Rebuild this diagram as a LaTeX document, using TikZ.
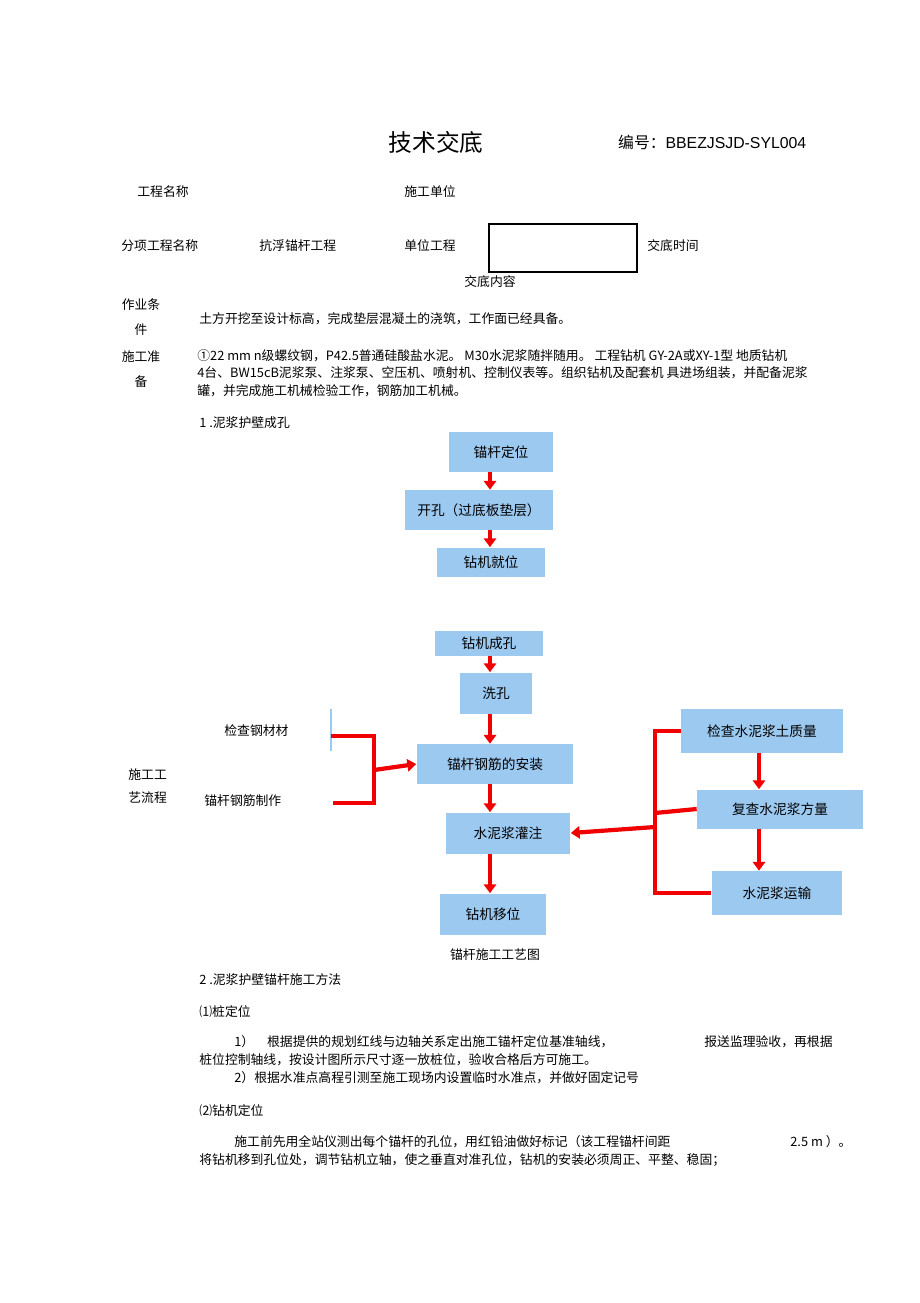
\documentclass[tikz,border=0pt]{standalone}
\usepackage{fontspec}
\setmainfont{Liberation Sans}
\newfontfamily\cjk{Noto Sans CJK SC}
\usetikzlibrary{positioning}
\definecolor{boxBlue}{RGB}{156,201,240}
\definecolor{lineRed}{RGB}{240,0,0}
\tikzset{
  txt/.style={anchor=west, inner sep=0pt, font=\cjk\fontsize{7.3}{10}\selectfont},
  stepbox/.style={fill=boxBlue, minimum width=#1, inner sep=0pt, font=\cjk\fontsize{7.8}{10}\selectfont},
  redline/.style={lineRed, line width=2.4pt},
  redarrow/.style={redline, -{Triangle[length=5pt,width=7pt]}}
}
\usetikzlibrary{arrows.meta}
\begin{document}
\begin{tikzpicture}[x=0.02cm, y=-0.02cm]
\useasboundingbox (0,0) rectangle (920,1303);
% header
\node (title) at (436,142) {\cjk\fontsize{13.5}{16}\selectfont 技术交底};
\node[anchor=west] (code) at (612,142) {\fontsize{9}{11}\selectfont{\cjk 编号：}BBEZJSJD-SYL004};
\node[txt] (l1) at (137,192) {工程名称};
\node[txt] (l2) at (404,192) {施工单位};
\node[txt] (l3) at (121,246) {分项工程名称};
\node[txt] (l4) at (259,246) {抗浮锚杆工程};
\node[txt] (l5) at (404,246) {单位工程};
\draw[line width=0.8pt] (489,224) rectangle (637,272);
\node[txt] (l6) at (647,246) {交底时间};
\node[txt] (l7) at (464,282) {交底内容};
% conditions
\node[txt, align=center, anchor=center] (c1) at (141,317) {作业条\\[4pt]件};
\node[txt] (c2) at (199,319) {土方开挖至设计标高，完成垫层混凝土的浇筑，工作面已经具备。};
\node[txt, align=center, anchor=center] (p1) at (141,369) {施工准\\[4pt]备};
\node[txt, align=left, anchor=north west] (p2) at (197,349)
  {①22 mm n级螺纹钢，P42.5普通硅酸盐水泥。 M30水泥浆随拌随用。 工程钻机 GY-2A或XY-1型 地质钻机\\
   4台、BW15cB泥浆泵、注浆泵、空压机、喷射机、控制仪表等。组织钻机及配套机 具进场组装，并配备泥浆\\
   罐，并完成施工机械检验工作，钢筋加工机械。};
\node[txt] (s1) at (199,423) {1 .泥浆护壁成孔};
% flow chart
\node[stepbox=105\pgflinewidth, minimum width=2.1cm, minimum height=0.8cm] (a1) at (501,452) {锚杆定位};
\node[stepbox=0, minimum width=2.98cm, minimum height=0.8cm] (a2) at (479,510) {开孔（过底板垫层）};
\node[stepbox=0, minimum width=2.16cm, minimum height=0.58cm] (a3) at (491,562) {钻机就位};
\node[stepbox=0, minimum width=2.16cm, minimum height=0.5cm] (a4) at (489,643) {钻机成孔};
\node[stepbox=0, minimum width=1.46cm, minimum height=0.82cm] (a5) at (496,693) {洗孔};
\node[stepbox=0, minimum width=3.14cm, minimum height=0.8cm] (a6) at (495,764) {锚杆钢筋的安装};
\node[stepbox=0, minimum width=2.5cm, minimum height=0.82cm] (a7) at (508,833) {水泥浆灌注};
\node[stepbox=0, minimum width=2.14cm, minimum height=0.82cm] (a8) at (493,914) {钻机移位};
\node[stepbox=0, minimum width=3.24cm, minimum height=0.88cm] (b1) at (762,731) {检查水泥浆土质量};
\node[stepbox=0, minimum width=3.32cm, minimum height=0.78cm] (b2) at (780,809) {复查水泥浆方量};
\node[stepbox=0, minimum width=2.62cm, minimum height=0.88cm] (b3) at (777,893) {水泥浆运输};
\node[txt] (m1) at (224,731) {检查钢材材};
\node[txt] (m2) at (204,801) {锚杆钢筋制作};
\node[txt, anchor=center] (cap) at (495,955) {锚杆施工工艺图};
\node[txt] (t1) at (128,775) {施工工};
\node[txt] (t2) at (128,798) {艺流程};
\coordinate (mt) at (331,736);
\coordinate (mb) at (333,803);
\coordinate (mj) at (374,770);
\coordinate (rj) at (655,827);
\draw[boxBlue, line width=1pt] (331,709) -- (331,751);
\foreach \u/\v in {a1/a2, a2/a3, a4/a5, a5/a6, a6/a7, a7/a8}
  \draw[redarrow] (\u.south -| 490,0) -- (\v.north -| 490,0);
\draw[redarrow] (b1.south -| 759,0) -- (b2.north -| 759,0);
\draw[redarrow] (b2.south -| 759,0) -- (b3.north -| 759,0);
\draw[redline] (mt) -| (mj) |- (mb);
\draw[redarrow] (mj) -- (a6.west);
\draw[redline] (b1.west) -| (655,893) -- (b3.west);
\draw[redline] (655,813) -- (b2.west);
\draw[redarrow] (rj) -- (a7.east);
% method
\node[txt] (s2) at (199,980) {2 .泥浆护壁锚杆施工方法};
\node[txt] (s3) at (199,1012) {⑴桩定位};
\node[txt] (s4) at (234,1042) {1）\quad 根据提供的规划红线与边轴关系定出施工锚杆定位基准轴线，};
\node[txt] (s5) at (704,1042) {报送监理验收，再根据};
\node[txt] (s6) at (199,1060) {桩位控制轴线，按设计图所示尺寸逐一放桩位，验收合格后方可施工。};
\node[txt] (s7) at (234,1078) {2）根据水准点高程引测至施工现场内设置临时水准点，并做好固定记号};
\node[txt] (s8) at (199,1111) {⑵钻机定位};
\node[txt] (s9) at (234,1142) {施工前先用全站仪测出每个锚杆的孔位，用红铅油做好标记（该工程锚杆间距};
\node[txt] (s10) at (790,1142) {2.5 m ）。};
\node[txt] (s11) at (199,1160) {将钻机移到孔位处，调节钻机立轴，使之垂直对准孔位，钻机的安装必须周正、平整、稳固；};
\end{tikzpicture}
\end{document}
